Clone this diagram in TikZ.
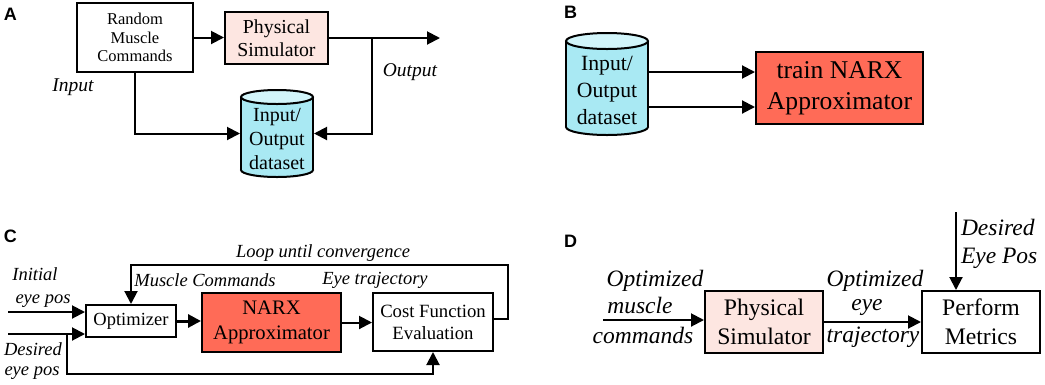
\documentclass[tikz,border=0pt]{standalone}
\usepackage{fontspec}
\setmainfont{Liberation Serif}
\newfontfamily\labfont{Liberation Sans}
\usetikzlibrary{arrows.meta,calc}
\definecolor{pinkS}{HTML}{FDE6E1}
\definecolor{tomatoN}{HTML}{FF6B57}
\definecolor{cyanB}{HTML}{A9E9F3}
\definecolor{cyanT}{HTML}{D2F5FA}
\newcommand\drawcyl[5]{% cx, ytop, ybot, rx, ry
  \filldraw[fill=cyanB] (#1,#3-#5) ellipse [x radius=#4, y radius=#5];
  \fill[cyanB] (#1-#4,#2+#5) rectangle (#1+#4,#3-#5);
  \draw (#1-#4,#2+#5) -- (#1-#4,#3-#5) (#1+#4,#2+#5) -- (#1+#4,#3-#5);
  \filldraw[fill=cyanT] (#1,#2+#5) ellipse [x radius=#4, y radius=#5];
}
\begin{document}
\begin{tikzpicture}[x=1pt,y=-1pt,line width=2pt,
  arr/.style={draw, line width=2pt, -{Triangle[length=13pt,width=13pt]}},
  blk/.style={draw, line width=2pt, inner sep=0pt, align=center},
  txt/.style={inner sep=0pt, align=center},
  lbl/.style={inner sep=0pt, anchor=base},
  itC/.style={lbl, font=\itshape\fontsize{18.5pt}{22pt}\selectfont},
  itD/.style={lbl, font=\itshape\fontsize{23.5pt}{28pt}\selectfont},
  panel/.style={font=\labfont\bfseries\fontsize{18pt}{18pt}\selectfont, inner sep=0pt, anchor=base west}]
\useasboundingbox (0,0) rectangle (1045,384);

% panel letters
\node[panel] (labA) at (3,20) {A};
\node[panel] (labB) at (563,18) {B};
\node[panel] (labC) at (3,242) {C};
\node[panel] (labD) at (563,247) {D};

% ---------- Panel A ----------
\node[blk, minimum width=116pt, minimum height=69pt, font=\fontsize{16.5pt}{18.5pt}\selectfont] (rmc) at (135,37.5) {Random\\Muscle\\Commands};
\node[blk, fill=pinkS, minimum width=103pt, minimum height=52pt, font=\fontsize{19.8pt}{23pt}\selectfont] (psA) at (276.5,38) {Physical\\Simulator};
\draw[arr] (rmc.east) -- (rmc.east -| psA.west);
\coordinate (outA) at (440,38);
\coordinate (brA) at (372,38);
\draw[arr] (psA.east) -- (outA);
\drawcyl{277}{90}{177}{36}{7}
\node[inner sep=0pt, minimum width=72pt, minimum height=87pt] (dsA) at (277,133.5) {};
\node[txt, font=\fontsize{20pt}{24pt}\selectfont] (dsAt) at (277,139) {Input/\\Output\\dataset};
\draw[arr] (brA) |- (dsA.east);
\draw[arr] (rmc.south) |- (dsA.west);
\node[lbl, font=\itshape\fontsize{19.5pt}{23pt}\selectfont] (inAl) at (73,91) {Input};
\node[lbl, font=\itshape\fontsize{19.5pt}{23pt}\selectfont] (outAl) at (410,76) {Output};

% ---------- Panel B ----------
\drawcyl{607}{33}{135}{41}{8}
\node[inner sep=0pt, minimum width=82pt, minimum height=102pt] (dsB) at (607,84) {};
\node[txt, font=\fontsize{21.7pt}{27pt}\selectfont] (dsBt) at (607,90) {Input/\\Output\\dataset};
\node[blk, fill=tomatoN, minimum width=167pt, minimum height=72pt, font=\fontsize{25.6pt}{31pt}\selectfont] (trB) at (839.5,88) {train NARX\\Approximator};
\coordinate (b1) at ($(dsB.east)+(0,-12)$);
\coordinate (b2) at ($(dsB.east)+(0,23)$);
\draw[arr] (b1) -- (b1 -| trB.west);
\draw[arr] (b2) -- (b2 -| trB.west);

% ---------- Panel C ----------
\node[blk, minimum width=90pt, minimum height=32pt, font=\fontsize{18.5pt}{22pt}\selectfont] (opt) at (131,321) {Optimizer};
\node[blk, fill=tomatoN, minimum width=139pt, minimum height=59pt, font=\fontsize{20.6pt}{25pt}\selectfont] (narx) at (271.5,322.5) {NARX\\Approximator};
\node[blk, minimum width=120pt, minimum height=58pt, font=\fontsize{18.7pt}{22pt}\selectfont] (cost) at (433,322) {Cost Function\\Evaluation};
\draw[arr, line width=3pt] (opt.east) -- (opt.east -| narx.west);
\draw[arr] (narx.east) -- (narx.east -| cost.west);
\coordinate (lpR) at (508,265);
\coordinate (lpL) at (131,265);
\draw[arr] ([yshift=3pt]cost.east) -| (lpR) -- (lpL) -- (opt.north);
\coordinate (in1) at (8,312);
\coordinate (in2) at (8,334);
\coordinate (br2) at (67,334);
\coordinate (lowC) at (433,374);
\draw[arr] (in1) -- (in1 -| opt.west);
\draw[arr] (in2) -- (in2 -| opt.west);
\draw[arr] (br2) |- (lowC) -- (cost.south);
\node[itC] (loopl) at (323,257) {Loop until convergence};
\node[itC] (mcl) at (205,286) {Muscle Commands};
\node[itC] (etl) at (375,284) {Eye trajectory};
\node[itC] (ini1) at (35,280) {Initial};
\node[itC] (ini2) at (43,303) {eye pos};
\node[itC] (des1) at (33,355) {Desired};
\node[itC] (des2) at (32,375) {eye pos};

% ---------- Panel D ----------
\node[blk, fill=pinkS, minimum width=118pt, minimum height=62pt, font=\fontsize{23.7pt}{29pt}\selectfont] (psD) at (764,322) {Physical\\Simulator};
\node[blk, minimum width=118pt, minimum height=62pt, font=\fontsize{23.7pt}{29pt}\selectfont] (pm) at (981,322) {Perform\\Metrics};
\coordinate (inD) at (603,320);
\draw[arr] (inD) -- (inD -| psD.west);
\draw[arr] (psD.east) -- (pm.west);
\coordinate (desD) at (956,212);
\draw[arr] (desD) -- (desD |- pm.north);
\node[itD] (om1) at (655,286) {Optimized};
\node[itD] (om2) at (640,313) {muscle};
\node[itD] (om3) at (643,343) {commands};
\node[itD] (oe1) at (875,286) {Optimized};
\node[itD] (oe2) at (867,310) {eye};
\node[itD] (oe3) at (873,342) {trajectory};
\node[itD, anchor=base west] (de1) at (960,235) {Desired};
\node[itD, anchor=base west] (de2) at (960,263) {Eye Pos};
\end{tikzpicture}
\end{document}
